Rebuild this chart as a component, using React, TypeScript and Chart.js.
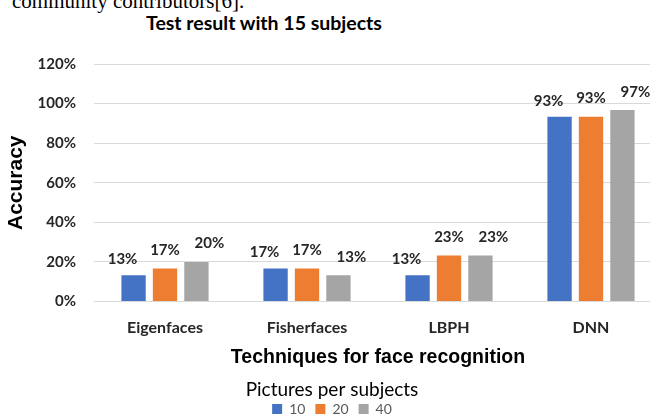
import React, { useEffect, useRef } from "react";
import { Chart, registerables } from "chart.js";

Chart.register(...registerables);

const categories = ["Eigenfaces", "Fisherfaces", "LBPH", "DNN"];
const seriesNames = ["10", "20", "40"];
const values10 = [13.3, 16.7, 13.3, 93.3];
const values20 = [16.7, 16.7, 23.3, 93.3];
const values40 = [20, 13.3, 23.3, 96.7];
const seriesColors = ["#4472C4", "#ED7D31", "#A5A5A5"];
const yMax = 120;
const yStep = 20;

// label placement per series (pixel nudges, like the source's hand-placed labels)
const labelDx = [-11, 0, 13];
const labelDy = [11, 13.5, 13.5];

const FONT = "Lato, 'Open Sans', sans-serif";
const AXIS_FONT = "'Liberation Sans', Arial, sans-serif";

const dataLabelPlugin = {
  id: "dataLabels",
  afterDatasetsDraw(chart: any) {
    const ctx = chart.ctx;
    ctx.save();
    ctx.font = `bold 15px ${FONT}`;
    ctx.fillStyle = "#262626";
    ctx.textAlign = "center";
    ctx.textBaseline = "alphabetic";
    chart.data.datasets.forEach((ds: any, i: number) => {
      const meta = chart.getDatasetMeta(i);
      meta.data.forEach((el: any, j: number) => {
        const v = ds.data[j];
        ctx.fillText(Math.round(v) + "%", el.x + labelDx[i], el.y - labelDy[i]);
      });
    });
    ctx.restore();
  },
};

export default function App() {
  const ref = useRef<HTMLCanvasElement>(null);
  useEffect(() => {
    if (!ref.current) return;
    const chart = new Chart(ref.current, {
      type: "bar",
      data: {
        labels: categories,
        datasets: [values10, values20, values40].map((d, i) => ({
          label: seriesNames[i],
          data: d,
          backgroundColor: seriesColors[i],
          categoryPercentage: 0.664,
          barPercentage: 0.774,
        })),
      },
      options: {
        responsive: false,
        animation: false,
        layout: { padding: { top: 64, left: 2, right: 0, bottom: -9 } },
        plugins: {
          title: { display: false },
          tooltip: { enabled: false },
          legend: {
            position: "bottom",
            title: {
              display: true,
              text: "Pictures per subjects",
              color: "#000",
              font: { family: FONT, size: 19, weight: "normal" },
              padding: { top: 0, bottom: -11.3 },
            },
            labels: {
              boxWidth: 10,
              boxHeight: 10,
              padding: 10,
              color: "#595959",
              font: { family: FONT, size: 14 },
            },
          },
        },
        scales: {
          x: {
            afterFit: (s: any) => {
              s.height = 79;
            },
            grid: { display: false, drawTicks: false },
            border: { display: false },
            ticks: {
              color: "#262626",
              font: { family: FONT, size: 16, weight: "bold" },
              padding: 17,
            },
            title: {
              display: true,
              text: "Techniques for face recognition",
              color: "#000",
              font: { family: AXIS_FONT, size: 19.5, weight: "bold" },
              padding: { top: 0, bottom: 11 },
            },
          },
          y: {
            min: 0,
            max: yMax,
            afterFit: (s: any) => {
              s.width = 92;
            },
            grid: { color: "#D9D9D9", drawTicks: false },
            border: { display: false },
            ticks: {
              stepSize: yStep,
              padding: 18,
              color: "#262626",
              font: { family: FONT, size: 15, weight: "bold" },
              callback: (v: any) => v + "%",
            },
            title: {
              display: true,
              text: "Accuracy",
              color: "#000",
              font: { family: AXIS_FONT, size: 21, weight: "bold" },
              padding: { top: 2, bottom: 0 },
            },
          },
        },
      },
      plugins: [dataLabelPlugin],
    });
    return () => chart.destroy();
  }, []);

  return (
    <div
      style={{
        position: "absolute",
        left: 0,
        top: 0,
        width: 650,
        height: 417,
        overflow: "hidden",
        background: "#fff",
      }}
    >
      <div
        style={{
          position: "absolute",
          left: 12,
          top: -9,
          fontFamily: "'Liberation Serif', 'Times New Roman', serif",
          fontSize: 21,
          lineHeight: "21px",
          whiteSpace: "nowrap",
          color: "#000",
        }}
      >
        community contributors[6].
      </div>
      <div
        style={{
          position: "absolute",
          left: 0,
          width: 528,
          top: 11,
          textAlign: "center",
          fontFamily: FONT,
          fontWeight: "bold",
          fontSize: 19.5,
          lineHeight: "24px",
          color: "#000",
          whiteSpace: "nowrap",
        }}
      >
        Test result with 15 subjects
      </div>
      <canvas
        ref={ref}
        width={662}
        height={417}
        style={{ position: "absolute", left: 0, top: 0 }}
      />
    </div>
  );
}
